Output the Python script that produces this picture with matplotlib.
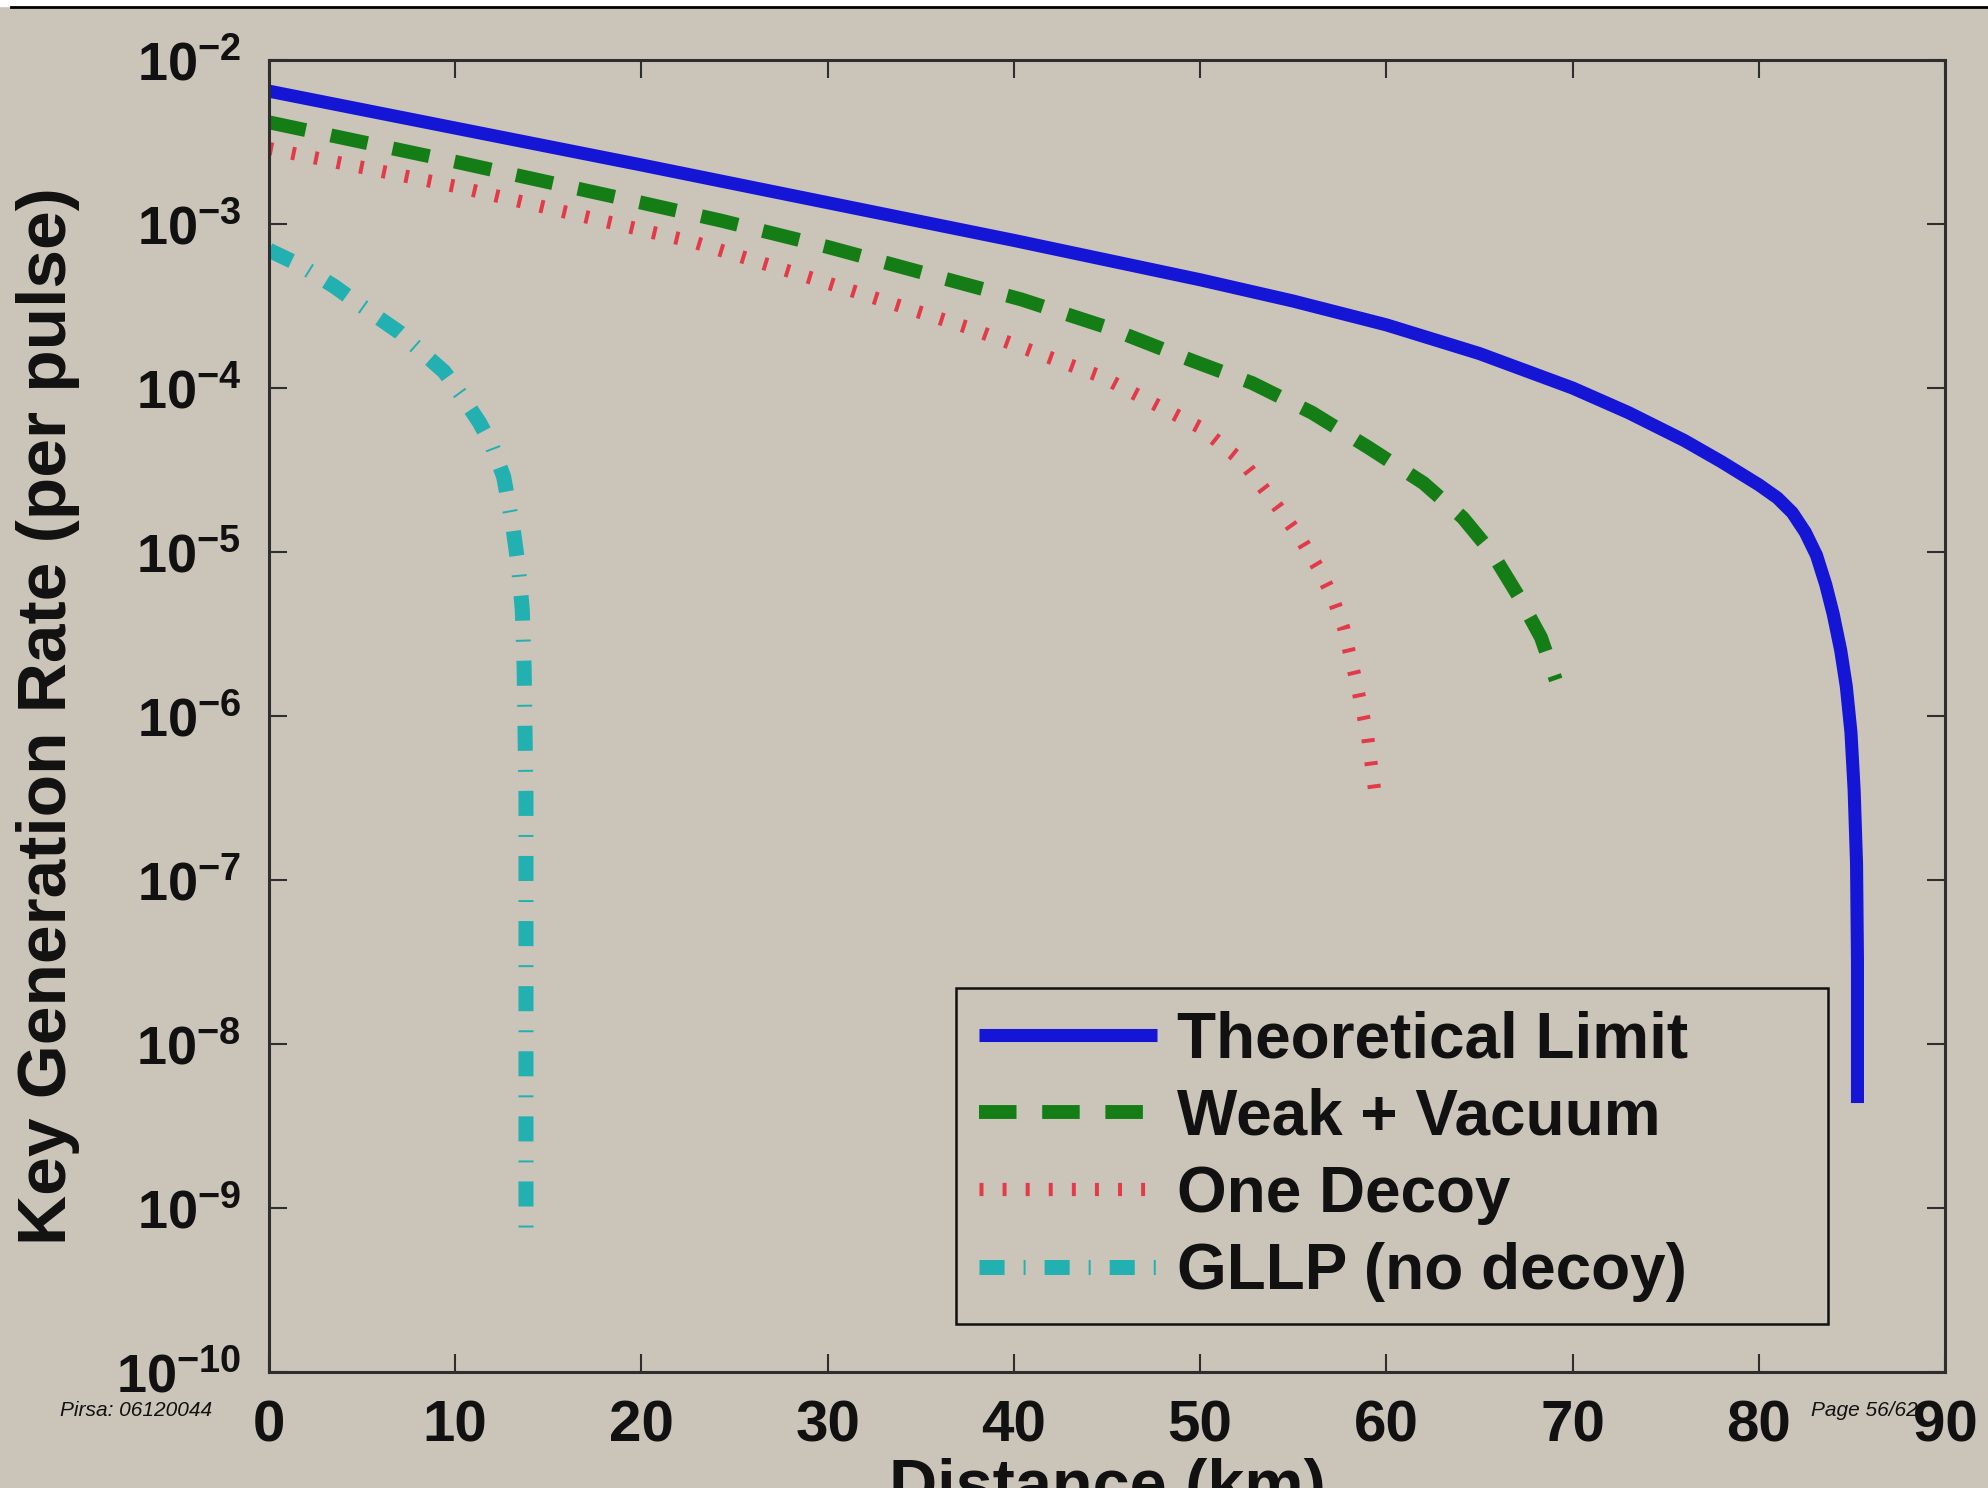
import math
import matplotlib
matplotlib.use('Agg')
import matplotlib.pyplot as plt
from matplotlib.ticker import FixedLocator, FuncFormatter
from matplotlib.lines import Line2D
from matplotlib.patches import Rectangle

# Data (distance in km, log10 of rate per pulse)
theory_km = [0, 10, 20, 30, 40, 45, 50, 55, 60, 65, 70, 73, 76, 78, 80,
             81, 81.8, 82.5, 83.1, 83.6, 84.0, 84.4, 84.7, 84.95, 85.12,
             85.25, 85.3, 85.3]
theory_log = [-2.19, -2.415, -2.64, -2.87, -3.10, -3.22, -3.34, -3.47, -3.615,
              -3.79, -4.00, -4.15, -4.32, -4.45, -4.59, -4.67, -4.76, -4.88,
              -5.02, -5.20, -5.38, -5.60, -5.82, -6.10, -6.45, -6.90, -7.50,
              -8.36]

weak_km = [0, 10, 20, 24.3, 30, 40.4, 45, 49.5, 52.8, 56, 59, 62, 64.1,
           65.7, 67.1, 68.3, 69.1]
weak_log = [-2.38, -2.62, -2.87, -2.98, -3.14, -3.46, -3.63, -3.83, -3.97,
            -4.15, -4.36, -4.58, -4.79, -5.01, -5.27, -5.52, -5.78]

decoy_km = [0, 10, 22.8, 30, 37.5, 44.7, 50, 52.3, 54.2, 55.4, 56.3, 57.1,
            57.7, 58.4, 59.0, 59.4]
decoy_log = [-2.54, -2.77, -3.11, -3.36, -3.63, -3.93, -4.24, -4.45, -4.73,
             -4.92, -5.09, -5.27, -5.46, -5.80, -6.13, -6.48]

gllp_km = [0, 1.66, 3.5, 5.6, 7, 8.3, 9.4, 10.3, 11.3, 12.0, 12.6, 13.1,
           13.4, 13.6, 13.7, 13.75, 13.8, 13.8]
gllp_log = [-3.16, -3.25, -3.38, -3.55, -3.66, -3.79, -3.90, -4.04, -4.21,
            -4.36, -4.54, -4.85, -5.10, -5.35, -5.70, -6.10, -6.50, -9.15]

labels = ['Theoretical Limit', 'Weak + Vacuum', 'One Decoy', 'GLLP (no decoy)']
x_ticks = [0, 10, 20, 30, 40, 50, 60, 70, 80, 90]
y_exps = [-10, -9, -8, -7, -6, -5, -4, -3, -2]

bg = '#cbc4b9'
ink = '#2e2e2e'

plt.rcParams['font.family'] = ['Liberation Sans', 'DejaVu Sans']
plt.rcParams['font.weight'] = 'bold'
plt.rcParams['mathtext.fontset'] = 'custom'
plt.rcParams['mathtext.rm'] = 'Liberation Sans:bold'
plt.rcParams['mathtext.it'] = 'Liberation Sans:bold'
plt.rcParams['mathtext.bf'] = 'Liberation Sans:bold'


def rates(logs):
    return [10.0 ** v for v in logs]


fig = plt.figure(figsize=(19.88, 14.88), dpi=100, facecolor=bg)
ax = fig.add_axes([269 / 1988, 1 - 1372 / 1488, 1676 / 1988, 1312 / 1488])
ax.set_facecolor(bg)

ax.plot(theory_km, rates(theory_log), color='#1515d5', lw=9.4,
        solid_capstyle='butt', solid_joinstyle='round', label=labels[0])
ax.plot(weak_km, rates(weak_log), color='#157d15', lw=10,
        linestyle=(0, (2.7, 1.85)), dash_capstyle='butt', label=labels[1])
ax.plot(decoy_km, rates(decoy_log), color='#e23a48', lw=9.5,
        linestyle=(0, (0.3, 1.45)), dash_capstyle='butt', label=labels[2])
ax.plot(gllp_km, rates(gllp_log), color='#22b0b0', lw=10.8,
        linestyle=(0, (1.67, 1.27, 0.13, 1.27)), dash_capstyle='butt',
        label=labels[3])

ax.set_yscale('log')
ax.set_xlim(0, 90)
ax.set_ylim(1e-10, 1e-2)
ax.xaxis.set_major_locator(FixedLocator(x_ticks))
ax.yaxis.set_major_locator(FixedLocator([10.0 ** e for e in y_exps]))
ax.yaxis.set_minor_locator(FixedLocator([]))
ax.yaxis.set_major_formatter(FuncFormatter(
    lambda v, p: r'$\mathrm{10^{%d}}$' % round(math.log10(v))))

ax.tick_params(axis='both', which='major', direction='in', top=True,
               right=True, length=13, width=1.5, color=ink)
ax.tick_params(axis='x', labelsize=42, pad=20)
ax.tick_params(axis='y', labelsize=39, pad=20)
for s in ax.spines.values():
    s.set_linewidth(2.2)
    s.set_color(ink)
for t in ax.get_xticklabels() + ax.get_yticklabels():
    t.set_fontweight('bold')
    t.set_color('#111111')

ax.set_ylabel('Key Generation Rate (per pulse)', fontsize=50,
              fontweight='bold', color='#111111')
ax.yaxis.set_label_coords(-0.113, 0.5)
fig.text(0.557, -0.012, 'Distance (km)', fontsize=48, fontweight='bold',
         color='#111111', ha='center', va='baseline')

leg = ax.legend(loc='upper left', bbox_to_anchor=(0.41, 0.041, 0.5203, 0.2517),
                mode='expand', borderaxespad=0, fontsize=46, frameon=True,
                fancybox=False, handlelength=2.8, handletextpad=0.3,
                labelspacing=0.27, borderpad=0.35)
leg.get_frame().set_facecolor(bg)
leg.get_frame().set_edgecolor('#111111')
leg.get_frame().set_linewidth(1.8)
leg.get_frame().set_alpha(1)
for t in leg.get_texts():
    t.set_color('#111111')

# slide footer texts
fig.text(60 / 1988, 1 - 1410 / 1488, 'Pirsa: 06120044', fontsize=15,
         style='italic', fontweight='normal', color='#111111', va='center')
fig.text(1811 / 1988, 1 - 1410 / 1488, 'Page 56/62', fontsize=15,
         style='italic', fontweight='normal', color='#111111', va='center')

# screenshot frame at the top
fig.add_artist(Rectangle((0, 1 - 6 / 1488), 1, 6 / 1488, color='white',
                         transform=fig.transFigure))
fig.add_artist(Line2D([11 / 1988, 1], [1 - 7 / 1488, 1 - 7 / 1488],
                      color='black', lw=2, transform=fig.transFigure))

fig.savefig('out.png', dpi=100, facecolor=bg)
